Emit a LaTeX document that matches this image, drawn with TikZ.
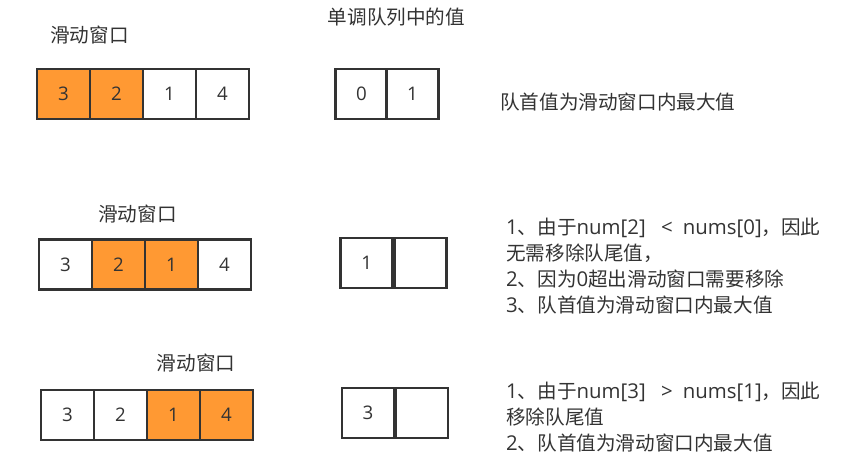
\documentclass[tikz,border=0pt]{standalone}
\usepackage{fontspec}
\setmainfont{Noto Sans CJK SC}
\newfontfamily\latn[Scale=1.04]{Open Sans}
\definecolor{win}{RGB}{255,153,51}
\definecolor{ink}{RGB}{51,51,51}
\begin{document}
\begin{tikzpicture}[x=1pt,y=-1pt,
		cell/.style={draw=ink,line width=2.8pt,fill=white,minimum width=53pt,minimum height=50pt,inner sep=0pt,text=ink,font=\latn\fontsize{18}{18}\selectfont},
		qcell/.style={cell,minimum width=52pt},
		txt/.style={text=ink,inner sep=0pt,font=\fontsize{19.6}{26}\selectfont}]
				\useasboundingbox (0,0) rectangle (857,460);
				\node[txt] (wa) at (89.5,35) {滑动窗口};
				\node[txt] (title) at (396.5,17) {单调队列中的值};
				\foreach \v/\f [count=\i] in {3/win,2/win,1/white,4/white}{
						\node[cell,fill=\f] (a\i) at ({37+53*\i-26.5},94) {\v};
					}
				\foreach \v [count=\i] in {0,1}{
						\node[qcell] (qa\i) at ({336+51*\i-25.5},94) {\v};
					}
				\node[txt,anchor=west] (ta) at (500,102) {队首值为滑动窗口内最大值};
				\node[txt] (wb) at (137.5,214) {滑动窗口};
				\foreach \v/\f [count=\i] in {3/white,2/win,1/win,4/white}{
						\node[cell,fill=\f] (b\i) at ({39+53*\i-26.5},264.5) {\v};
					}
				\foreach \v [count=\i] in {1,{}}{
						\node[qcell] (qb\i) at ({340+53.5*\i-26.75},263) {\v};
					}
				\node[txt,anchor=north west,align=left] (tb) at (506,218) {{\latn 1}、由于{\latn num[2]\hspace{10pt} <\hspace{5pt} nums[0]}，因此\\无需移除队尾值，\\{\latn 2}、因为{\latn 0}超出滑动窗口需要移除\\{\latn 3}、队首值为滑动窗口内最大值};
				\node[txt] (wc) at (196,363) {滑动窗口};
				\foreach \v/\f [count=\i] in {3/white,2/white,1/win,4/win}{
						\node[cell,fill=\f] (c\i) at ({41+53*\i-26.5},415) {\v};
					}
				\foreach \v [count=\i] in {3,{}}{
						\node[qcell] (qc\i) at ({341+54*\i-27},413) {\v};
					}
				\node[txt,anchor=north west,align=left] (tc) at (506,382) {{\latn 1}、由于{\latn num[3]\hspace{10pt} >\hspace{5pt} nums[1]}，因此\\移除队尾值\\{\latn 2}、队首值为滑动窗口内最大值};
			\end{tikzpicture}
\end{document}
